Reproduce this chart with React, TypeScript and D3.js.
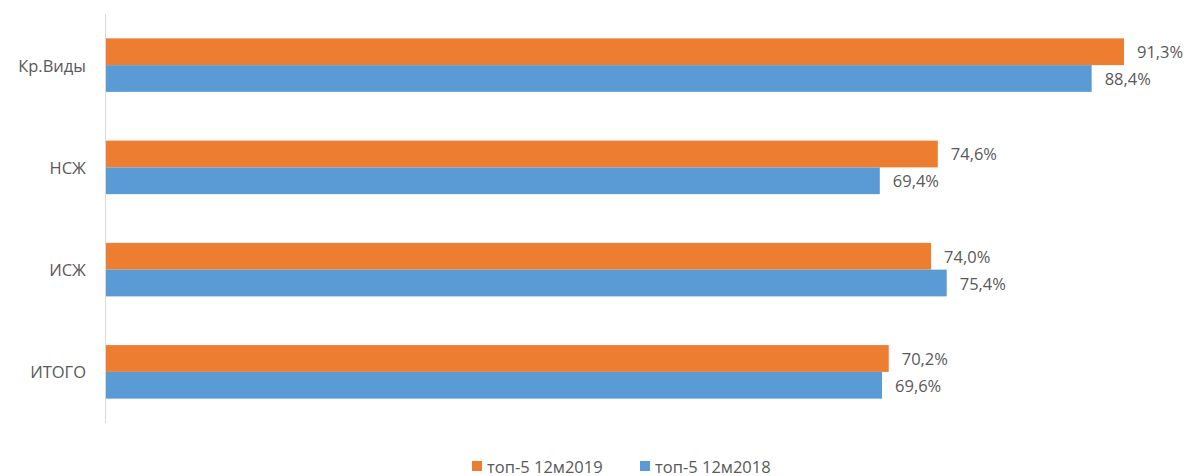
import React, { useEffect, useRef } from 'react';
import * as d3 from 'd3';

const categories = ['Кр.Виды', 'НСЖ', 'ИСЖ', 'ИТОГО'];
const seriesNames = ['топ-5 12м2019', 'топ-5 12м2018'];
const values2019 = [91.3, 74.6, 74.0, 70.2];
const values2018 = [88.4, 69.4, 75.4, 69.6];

const COLORS = ['#ED7D31', '#5B9BD5'];
const TEXT = '#595959';
const FONT = '"Open Sans", "Liberation Sans", Arial, sans-serif';

const W = 1190;
const H = 476;

const App: React.FC = () => {
  const svgRef = useRef<SVGSVGElement>(null);

  useEffect(() => {
    if (!svgRef.current) return;
    const svg = d3.select(svgRef.current);
    svg.selectAll('*').remove();

    const x = d3.scaleLinear().domain([0, 100]).range([106, 1221]);
    const y = d3.scaleBand<string>().domain(categories).range([14, 423]).padding(0);
    const sub = d3
      .scaleBand<string>()
      .domain(seriesNames)
      .range([0, y.bandwidth()])
      .paddingInner(0)
      .paddingOuter(0.91);

    const series = [values2019, values2018];

    // axis line
    svg
      .append('line')
      .attr('x1', 105.5)
      .attr('x2', 105.5)
      .attr('y1', 14)
      .attr('y2', 423)
      .attr('stroke', '#d9d9d9')
      .attr('stroke-width', 1);

    categories.forEach((cat, i) => {
      const y0 = y(cat)!;
      svg
        .append('text')
        .attr('x', 86)
        .attr('y', y0 + y.bandwidth() / 2)
        .attr('text-anchor', 'end')
        .attr('dominant-baseline', 'central')
        .attr('font-family', FONT)
        .attr('font-size', '16.5px')
        .attr('fill', TEXT)
        .text(cat);

      series.forEach((vals, s) => {
        const by = y0 + sub(seriesNames[s])!;
        const bh = sub.bandwidth();
        svg
          .append('rect')
          .attr('x', x(0))
          .attr('y', by)
          .attr('width', x(vals[i]) - x(0))
          .attr('height', bh)
          .attr('fill', COLORS[s]);

        svg
          .append('text')
          .attr('x', x(vals[i]) + 13)
          .attr('y', by + bh / 2)
          .attr('dominant-baseline', 'central')
          .attr('font-family', FONT)
          .attr('font-size', '16.5px')
          .attr('fill', TEXT)
          .text(vals[i].toFixed(1).replace('.', ',') + '%');
      });
    });

    // legend
    const legendX = [472, 640];
    seriesNames.forEach((name, s) => {
      svg
        .append('rect')
        .attr('x', legendX[s])
        .attr('y', 461)
        .attr('width', 10)
        .attr('height', 10)
        .attr('fill', COLORS[s]);
      svg
        .append('text')
        .attr('x', legendX[s] + 15)
        .attr('y', 466)
        .attr('dominant-baseline', 'central')
        .attr('font-family', FONT)
        .attr('font-size', '16.5px')
        .attr('fill', TEXT)
        .text(name);
    });
  }, []);

  return (
    <svg
      ref={svgRef}
      width={W}
      height={H}
      style={{ position: 'absolute', left: 0, top: 0, background: '#fff' }}
    />
  );
};

export default App;
